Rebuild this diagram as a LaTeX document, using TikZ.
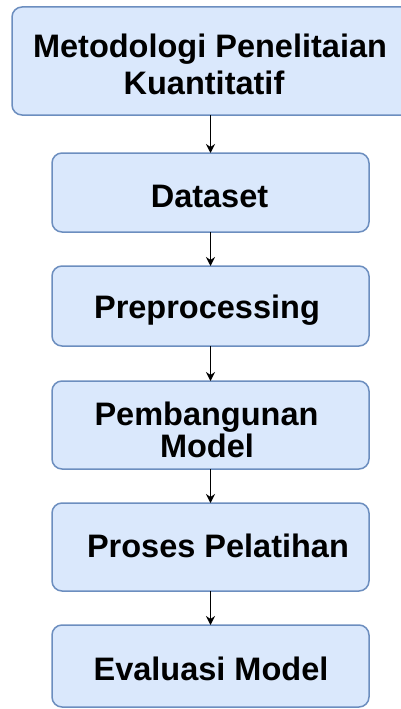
\documentclass[tikz,border=0pt]{standalone}
\usepackage{fontspec}
\setmainfont{Liberation Sans}
\usetikzlibrary{arrows.meta}
\definecolor{boxfill}{HTML}{DAE8FC}
\definecolor{boxline}{HTML}{6C8EBF}
\begin{document}
\begin{tikzpicture}[x=1pt,y=-1pt,
  stagebox/.style={draw=boxline,fill=boxfill,line width=1.5pt,rounded corners=10pt,
    inner sep=0pt,outer sep=0pt,minimum width=317pt},
  label/.style={anchor=base,inner sep=0pt,font=\fontsize{32.5}{36}\selectfont\bfseries},
  flow/.style={line width=1.4pt,-{Stealth[length=9pt,width=9pt]}}]
\useasboundingbox (0,0) rectangle (400,709);
% process stages
\node[stagebox,minimum width=400pt,minimum height=108pt] (top) at (212,61) {};
\node[stagebox,minimum height=79pt] (data) at (210.5,192.5) {};
\node[stagebox,minimum height=80pt] (prep) at (210.5,306) {};
\node[stagebox,minimum height=88pt] (build) at (210.5,425) {};
\node[stagebox,minimum height=88pt] (train) at (210.5,547) {};
\node[stagebox,minimum height=82pt] (eval) at (210.5,666) {};
% stage texts
\node[label] (m1) at (210,57) {Metodologi Penelitaian};
\node[label] (m2) at (204,94) {Kuantitatif};
\node[label] (ds) at (209.5,207) {Dataset};
\node[label] (pp) at (207,318) {Preprocessing};
\node[label] (pb1) at (206.5,425) {Pembangunan};
\node[label] (pb2) at (207,457) {Model};
\node[label] (pl) at (218,557) {Proses Pelatihan};
\node[label] (ev) at (211,680) {Evaluasi Model};
% connectors
\draw[flow] (top.south -| data.north) -- (data.north);
\draw[flow] (data.south) -- (prep.north);
\draw[flow] (prep.south) -- (build.north);
\draw[flow] (build.south) -- (train.north);
\draw[flow] (train.south) -- (eval.north);
\end{tikzpicture}
\end{document}
